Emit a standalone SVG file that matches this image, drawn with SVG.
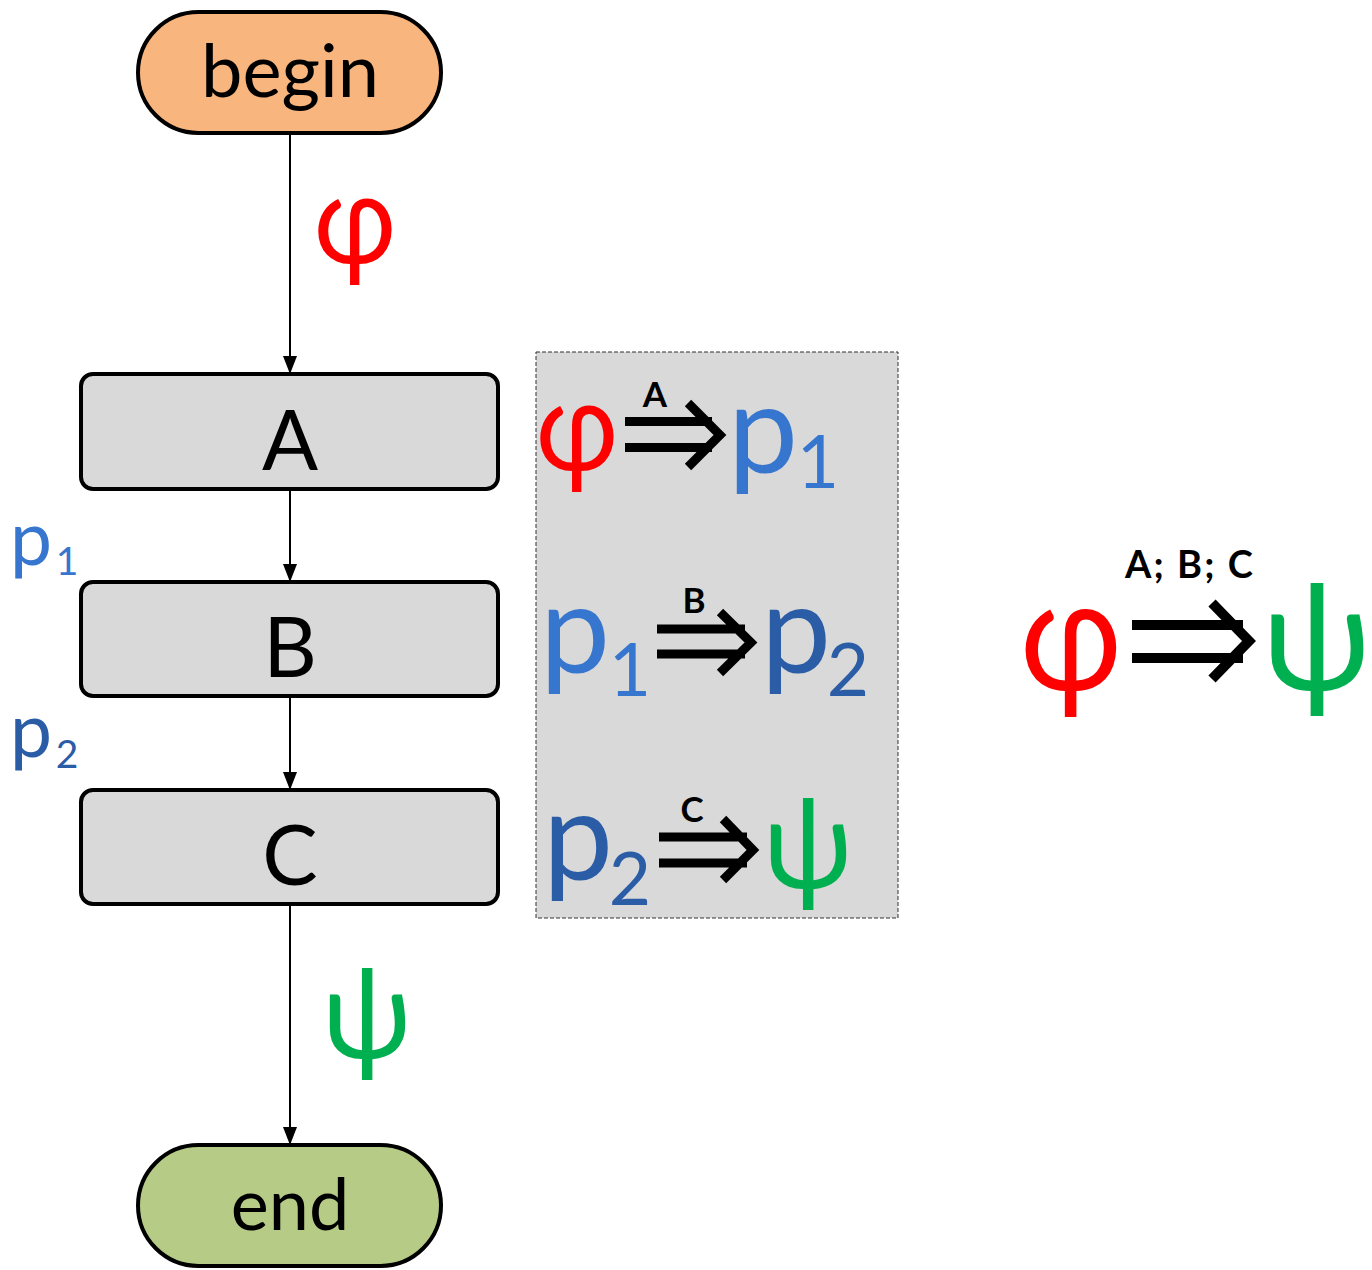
<svg xmlns="http://www.w3.org/2000/svg" width="1372" height="1270" viewBox="0 0 1372 1270">
  <defs>
    <marker id="ah" markerWidth="18" markerHeight="14" refX="18" refY="7" orient="auto" markerUnits="userSpaceOnUse" viewBox="0 0 18 14">
      <path d="M0,0 L18,7 L0,14 Z" fill="#000"/>
    </marker>
    <style>
      .term { stroke:#000; stroke-width:4; }
      .box { fill:#D9D9D9; stroke:#000; stroke-width:4; }
      .lbl { font-family:Lato, "Noto Sans", sans-serif; fill:#000; text-anchor:middle; }
      .greek { font-family:Lato, "DejaVu Sans", sans-serif; text-anchor:middle; }
      .pv { font-family:Lato, "Noto Sans", sans-serif; text-anchor:middle; }
      .red { fill:#FF0000; }
      .green { fill:#00B050; }
      .b1 { fill:#3776CF; }
      .b2 { fill:#2A5DA6; }
      .conn { stroke:#000; stroke-width:2; fill:none; }
      .dbl { stroke:#000; fill:none; stroke-linecap:butt; }
      .bold { font-family:Lato, "Noto Sans", sans-serif; font-weight:bold; fill:#000; text-anchor:middle; }
    </style>
  </defs>

  <!-- gray triple panel -->
  <g id="panel">
    <rect x="536" y="352" width="362" height="566" fill="#D9D9D9" stroke="#333" stroke-width="1" stroke-dasharray="4 2"/>
  </g>

  <g id="connectors">
    <line class="conn" x1="290" y1="133" x2="290" y2="374" marker-end="url(#ah)"/>
    <line class="conn" x1="290" y1="489" x2="290" y2="582" marker-end="url(#ah)"/>
    <line class="conn" x1="290" y1="696" x2="290" y2="790" marker-end="url(#ah)"/>
    <line class="conn" x1="290" y1="904" x2="290" y2="1145" marker-end="url(#ah)"/>
  </g>

  <g id="begin">
    <rect class="term" x="138" y="12" width="303" height="121" rx="60.5" fill="#F8B57E"/>
    <text class="lbl" x="290" y="97" font-size="74">begin</text>
  </g>
  <g id="A">
    <rect class="box" x="81" y="374" width="417" height="115" rx="12"/>
    <text class="lbl" x="290" y="470" font-size="83">A</text>
  </g>
  <g id="B">
    <rect class="box" x="81" y="582" width="417" height="114" rx="12"/>
    <text class="lbl" x="290" y="677" font-size="83">B</text>
  </g>
  <g id="C">
    <rect class="box" x="81" y="790" width="417" height="114" rx="12"/>
    <text class="lbl" x="290" y="885" font-size="83">C</text>
  </g>
  <g id="end">
    <rect class="term" x="138" y="1145" width="303" height="121" rx="60.5" fill="#B5CB86"/>
    <text class="lbl" x="290" y="1230" font-size="72">end</text>
  </g>

  <!-- edge labels -->
  <g id="edge-labels">
    <text class="greek red" transform="translate(355,263) scale(0.88,1)" font-size="127">φ</text>
    <text class="greek green" transform="translate(367,1058) scale(0.92,1)" font-size="127">ψ</text>
    <text class="pv b1" x="31" y="565" font-size="75">p</text>
    <text class="pv b1" x="67" y="575" font-size="39">1</text>
    <text class="pv b2" x="31" y="757" font-size="75">p</text>
    <text class="pv b2" x="67" y="768" font-size="39">2</text>
  </g>

  <!-- row 1: φ =A=> p1 -->
  <g id="triple-A">
    <text class="greek red" transform="translate(577,470) scale(0.88,1)" font-size="127">φ</text>
    <text class="bold" x="655" y="407" font-size="35">A</text>
    <path class="dbl" stroke-width="9" d="M625,421.5 H712 M625,447.5 H712 M688,403 L720,435 L688,467"/>
    <text class="pv b1" x="763" y="473" font-size="125">p</text>
    <text class="pv b1" x="818" y="488" font-size="73">1</text>
  </g>

  <!-- row 2: p1 =B=> p2 -->
  <g id="triple-B">
    <text class="pv b1" x="575" y="673" font-size="125">p</text>
    <text class="pv b1" x="630" y="696" font-size="73">1</text>
    <text class="bold" x="694" y="613" font-size="35">B</text>
    <path class="dbl" stroke-width="9" d="M657,629 H745 M657,654 H745 M720,612 L751,642.5 L720,673"/>
    <text class="pv b2" x="796" y="673" font-size="125">p</text>
    <text class="pv b2" x="848" y="696" font-size="73">2</text>
  </g>

  <!-- row 3: p2 =C=> ψ -->
  <g id="triple-C">
    <text class="pv b2" x="578" y="880" font-size="125">p</text>
    <text class="pv b2" x="630" y="905" font-size="73">2</text>
    <text class="bold" x="692" y="822" font-size="35">C</text>
    <path class="dbl" stroke-width="9" d="M659,837 H747 M659,863 H747 M723,819 L753,850 L723,880"/>
    <text class="greek green" transform="translate(808,888) scale(0.92,1)" font-size="127">ψ</text>
  </g>

  <!-- summary: φ =A;B;C=> ψ -->
  <g id="summary">
    <text class="bold" x="1189" y="578" font-size="38" textLength="128" lengthAdjust="spacing">A; B; C</text>
    <text class="greek red" transform="translate(1071,690) scale(0.88,1)" font-size="157">φ</text>
    <path class="dbl" stroke-width="10" d="M1132,625 H1243 M1132,658 H1243 M1212,603 L1249,641 L1212,679"/>
    <text class="greek green" transform="translate(1317,690) scale(0.95,1)" font-size="150">ψ</text>
  </g>
</svg>
